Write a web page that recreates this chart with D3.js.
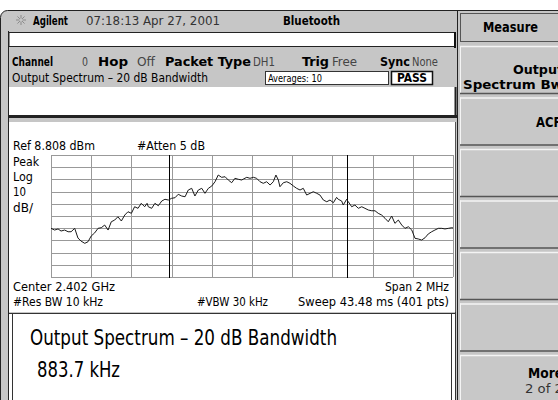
<!DOCTYPE html>
<html>
<head>
<meta charset="utf-8">
<script src="https://cdn.jsdelivr.net/npm/d3@7"></script>
<style>
  body { margin: 0; background: #fff; }
  svg { display: block; }
  text { font-family: "DejaVu Sans Condensed", "Liberation Sans Narrow", "DejaVu Sans", sans-serif; }
</style>
</head>
<body>
<div id="screen"></div>
<script>
// trace: offset from center (kHz) and level (dBm)
var freqKHz = [-1000, -982, -965, -950, -932, -915, -900, -882, -866, -851, -832, -816, -800, -783,
  -766, -750, -733, -716, -700, -683, -667, -650, -633, -617, -600, -584, -567, -551, -534, -522,
  -516, -499, -483, -466, -449, -433, -416, -400, -383, -367, -350, -333, -317, -300, -284, -267,
  -250, -234, -217, -200, -184, -168, -151, -134, -118, -101, -85, -68, -51, -43, -26, -10,
  7, 23, 40, 56, 73, 90, 106, 119, 131, 139, 156, 173, 189, 206, 222, 239, 255, 272, 289,
  305, 322, 338, 355, 372, 388, 405, 421, 429, 446, 454, 471, 479, 496, 512, 529, 546, 562,
  579, 596, 612, 628, 645, 662, 678, 695, 711, 728, 745, 761, 778, 795, 811, 827, 844, 861,
  877, 894, 910, 927, 944, 960, 977, 994, 1000];
var ampDbm = [-51.3, -52.7, -51.8, -53.5, -52.7, -54.1, -54.1, -51.3, -59.2, -61.7, -63.6, -62.3, -57.6, -55.1,
  -51.3, -50.8, -48.6, -52.7, -45.9, -44.5, -41.8, -45.3, -40.4, -37.7, -39.0, -33.6, -34.9, -30.8, -33.6, -30.8,
  -33.6, -34.9, -30.8, -32.8, -28.9, -27.5, -28.1, -26.7, -26.2, -23.4, -24.8, -25.4, -19.9, -18.5, -24.8, -19.9,
  -18.5, -22.6, -18.5, -16.6, -13.1, -7.6, -9.5, -9.0, -11.7, -13.9, -10.3, -11.1, -11.7, -10.9, -9.5, -10.3,
  -9.5, -10.3, -13.1, -14.4, -13.1, -15.8, -13.1, -7.6, -11.7, -17.2, -13.9, -13.1, -14.4, -16.6, -18.5, -19.9, -18.5, -24.0, -22.6,
  -21.3, -22.6, -24.0, -28.1, -29.5, -28.1, -30.3, -25.9, -27.5, -28.9, -32.2, -27.5, -29.5, -33.6, -32.2, -34.9, -33.6, -34.9,
  -36.3, -36.9, -36.9, -39.0, -40.4, -43.1, -45.9, -41.2, -47.2, -44.5, -48.6, -51.3, -50.0, -52.7, -59.5, -60.0, -60.9, -59.0,
  -55.9, -54.1, -52.7, -51.3, -51.3, -51.8, -51.3, -50.8, -51.0];

var xDivs = [-1000, -800, -600, -400, -200, 0, 200, 400, 600, 800, 1000];
var refLevel = 8.808, dbPerDiv = 10, nDivs = 10;
var yDivs = d3.range(nDivs + 1).map(function(i) { return refLevel - i * dbPerDiv; });
var markersKHz = [-410, 473.7];
var softkeys = [["Output", "Spectrum Bw"], ["ACP"], [], [], [], [], ["More", "2 of 2"]];

var svg = d3.select("#screen").append("svg").attr("width", 558).attr("height", 400);
var gray = "#c6c6c6";

// text helper: fit to measured width
function label(t, x, y, w, size, opts) {
  opts = opts || {};
  var el = svg.append("text").attr("x", x).attr("y", y).attr("font-size", size)
    .attr("font-weight", opts.bold ? "bold" : "normal")
    .attr("fill", opts.fill || "#000").text(t);
  if (opts.anchor) el.attr("text-anchor", opts.anchor);
  if (w) el.attr("textLength", w).attr("lengthAdjust", "spacingAndGlyphs");
  return el;
}

// screen frame
svg.append("rect").attr("x", 0.5).attr("y", 10.5).attr("width", 570).attr("height", 400)
  .attr("rx", 7).attr("fill", gray).attr("stroke", "#222");
svg.append("line").attr("x1", 8.5).attr("x2", 8.5).attr("y1", 31).attr("y2", 400).attr("stroke", "#222");

// header
var star = svg.append("g").attr("transform", "translate(21,20)").attr("stroke", "#8a8a8a");
d3.range(8).forEach(function(i) {
  var a = i * Math.PI / 4;
  star.append("line").attr("x1", 1.5 * Math.cos(a)).attr("y1", 1.5 * Math.sin(a))
    .attr("x2", 5 * Math.cos(a)).attr("y2", 5 * Math.sin(a));
});
label("Agilent", 33, 25, 35, 13, {bold: true});
label("07:18:13  Apr 27, 2001", 86, 25, 134, 13, {fill: "#333"});
label("Bluetooth", 283, 25, 57, 13, {bold: true});

// white message bar
svg.append("rect").attr("x", 9).attr("y", 32.5).attr("width", 446).attr("height", 14)
  .attr("fill", "#fff").attr("stroke", "#222");
svg.append("line").attr("x1", 455).attr("x2", 455).attr("y1", 32).attr("y2", 48).attr("stroke", "#111").attr("stroke-width", 2);

// channel row
[["Channel", 12, 41, true], ["0", 82, 6, false], ["Hop", 98, 30, true], ["Off", 137, 18, false],
 ["Packet Type", 165, 86, true], ["DH1", 253, 22, false], ["Trig", 302, 27, true], ["Free", 332, 25, false],
 ["Sync", 380, 30, true], ["None", 412, 26, false]].forEach(function(d) {
  label(d[0], d[1], 66, d[2], 13, {bold: d[3], fill: d[3] ? "#000" : "#444"});
});
label("Output Spectrum \u2013 20 dB Bandwidth", 12, 82, 196, 12);
svg.append("rect").attr("x", 265.5).attr("y", 71.5).attr("width", 123).attr("height", 13)
  .attr("fill", "#fff").attr("stroke", "#333");
label("Averages: 10", 268, 82, 54, 11);
svg.append("rect").attr("x", 391.5).attr("y", 71.5).attr("width", 41).attr("height", 13)
  .attr("fill", "#fff").attr("stroke", "#111").attr("stroke-width", 1.5);
label("PASS", 412, 82, 30, 12, {bold: true, anchor: "middle"});

// upper white panel
svg.append("rect").attr("x", 9).attr("y", 87).attr("width", 447).attr("height", 28).attr("fill", "#fff");
svg.append("line").attr("x1", 9).attr("x2", 457).attr("y1", 116.5).attr("y2", 116.5).attr("stroke", "#222").attr("stroke-width", 3);
svg.append("line").attr("x1", 455.5).attr("x2", 455.5).attr("y1", 87).attr("y2", 118).attr("stroke", "#222").attr("stroke-width", 2);

// chart panel
svg.append("rect").attr("x", 9).attr("y", 122).attr("width", 446).attr("height", 190).attr("fill", "#fff");
svg.append("line").attr("x1", 455.5).attr("x2", 455.5).attr("y1", 122).attr("y2", 312).attr("stroke", "#555");

var x = d3.scaleLinear().domain([-1000, 1000]).range([51, 453]);
var y = d3.scaleLinear().domain([refLevel - nDivs * dbPerDiv, refLevel]).range([277, 155]);

var plot = svg.append("g");
plot.append("g").attr("transform", "translate(0,277)")
  .call(d3.axisBottom(x).tickValues(xDivs).tickSize(-122).tickFormat(""))
  .call(function(g) {
    g.select(".domain").remove();
    g.selectAll("line").attr("stroke", "#999").attr("shape-rendering", "crispEdges");
  });
plot.append("g").attr("transform", "translate(51,0)")
  .call(d3.axisLeft(y).tickValues(yDivs).tickSize(-402).tickFormat(""))
  .call(function(g) {
    g.select(".domain").remove();
    g.selectAll("line").attr("stroke", "#999").attr("shape-rendering", "crispEdges");
  });

plot.selectAll(".marker").data(markersKHz).enter().append("line")
  .attr("class", "marker")
  .attr("x1", function(d) { return x(d); }).attr("x2", function(d) { return x(d); })
  .attr("y1", 155).attr("y2", 278).attr("stroke", "#000").attr("shape-rendering", "crispEdges");

var trace = d3.line()
  .x(function(d, i) { return x(freqKHz[i]); })
  .y(function(d) { return y(d); });
plot.append("path").datum(ampDbm)
  .attr("fill", "none").attr("stroke", "#1a1a1a").attr("stroke-width", 1)
  .attr("stroke-linejoin", "round").attr("d", trace);

label("Ref 8.808 dBm", 13, 150, 82, 11.5);
label("#Atten 5 dB", 137, 150, 68, 11.5);
label("Peak", 13, 166, 26, 11.5);
label("Log", 13, 181, 20, 11.5);
label("10", 13, 196, 13, 11.5);
label("dB/", 13, 212, 20, 11.5);
label("Center 2.402 GHz", 13, 291, 102, 11.5);
label("#Res BW 10 kHz", 13, 306, 90, 11.5);
label("#VBW 30 kHz", 197, 306, 71, 11.5);
label("Span 2 MHz", 385, 291, 64, 11.5);
label("Sweep 43.48 ms (401 pts)", 298, 306, 151, 11.5);

// results panel
svg.append("rect").attr("x", 9).attr("y", 313).attr("width", 446).attr("height", 90).attr("fill", "#fff");
svg.append("line").attr("x1", 9).attr("x2", 456).attr("y1", 313.5).attr("y2", 313.5).attr("stroke", "#333");
svg.append("line").attr("x1", 12.5).attr("x2", 12.5).attr("y1", 314).attr("y2", 400).attr("stroke", "#333");
svg.append("line").attr("x1", 451.5).attr("x2", 451.5).attr("y1", 314).attr("y2", 400).attr("stroke", "#333");
svg.append("line").attr("x1", 455.5).attr("x2", 455.5).attr("y1", 312).attr("y2", 400).attr("stroke", "#333");
label("Output Spectrum \u2013 20 dB Bandwidth", 30, 345, 307, 21);
label("883.7 kHz", 37, 377, 83, 21);

// softkey panel
svg.append("rect").attr("x", 458).attr("y", 11).attr("width", 110).attr("height", 400).attr("fill", gray);
svg.append("line").attr("x1", 457.5).attr("x2", 457.5).attr("y1", 11).attr("y2", 400).attr("stroke", "#222");
svg.append("rect").attr("x", 460.5).attr("y", 13.5).attr("width", 110).attr("height", 28)
  .attr("fill", gray).attr("stroke", "#555");
label("Measure", 483, 32, 55, 13.5, {bold: true});

var keyTop = 46, keyH = 48, keyStep = 51.5;
softkeys.forEach(function(lines, i) {
  var top = keyTop + i * keyStep;
  var g = svg.append("g");
  g.append("rect").attr("x", 460).attr("y", top).attr("width", 110).attr("height", keyH).attr("fill", "#c8c8c8");
  g.append("line").attr("x1", 460).attr("x2", 570).attr("y1", top + 0.5).attr("y2", top + 0.5).attr("stroke", "#f4f4f4").attr("stroke-width", 1.5);
  g.append("line").attr("x1", 460.5).attr("x2", 460.5).attr("y1", top).attr("y2", top + keyH).attr("stroke", "#f4f4f4");
  g.append("line").attr("x1", 460).attr("x2", 570).attr("y1", top + keyH - 0.5).attr("y2", top + keyH - 0.5).attr("stroke", "#555").attr("stroke-width", 1.5);
});
label("Output", 563, 74, 50, 13, {bold: true, anchor: "end"});
label("Spectrum Bw", 563, 89, 100, 13, {bold: true, anchor: "end"});
label("ACP", 562, 127, 26, 13.5, {bold: true, anchor: "end"});
label("More", 563, 378, 35, 13.5, {bold: true, anchor: "end"});
label("2 of 2", 563, 393, 38, 12.5, {anchor: "end", fill: "#333"});
</script>
</body>
</html>
